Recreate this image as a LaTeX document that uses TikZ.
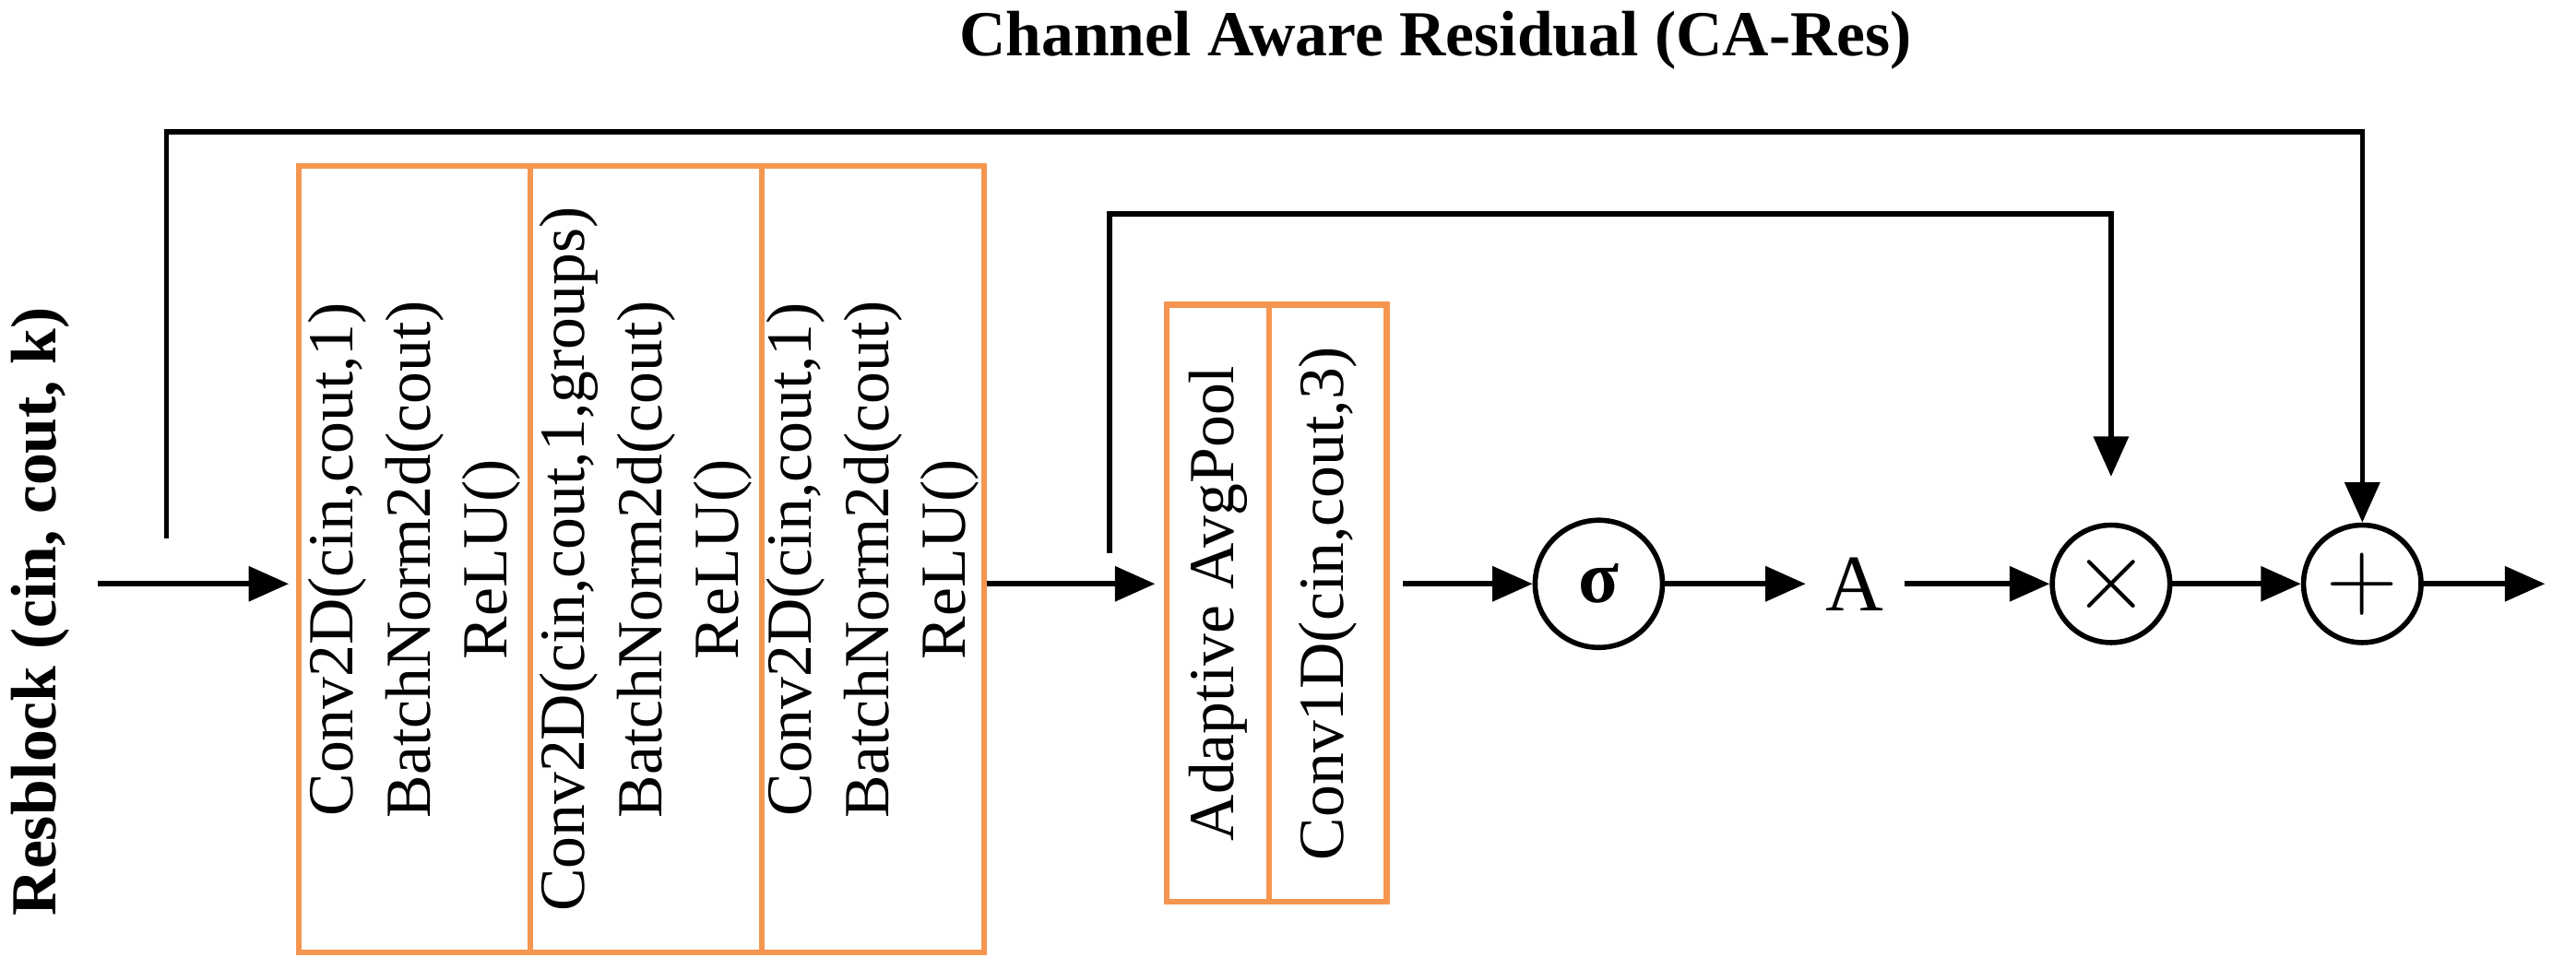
\documentclass[tikz,border=0pt]{standalone}
\usepackage{fontspec}
\setmainfont{Liberation Serif}
\usetikzlibrary{arrows.meta}
\definecolor{org}{RGB}{244,150,80}
\begin{document}
\begin{tikzpicture}[x=0.01cm,y=-0.01cm,
  ln/.style={line width=0.9pt},
  arr/.style={ln,-{Triangle[length=7pt,width=6pt]}},
  box/.style={draw=org,line width=1pt,minimum height=4.82cm,inner sep=0},
  sbox/.style={draw=org,line width=1pt,minimum height=3.66cm,inner sep=0},
  circ/.style={draw,circle,line width=0.9pt,minimum size=0.72cm,inner sep=0},
  txt/.style={rotate=90,align=center,font=\fontsize{11.2}{13.4}\selectfont}]
\useasboundingbox (0,0) rectangle (1579,594);
\node[font=\bfseries\fontsize{11.2}{13}\selectfont] (title) at (880,25) {Channel Aware Residual (CA-Res)};
\node[rotate=90,font=\bfseries\fontsize{11.2}{13}\selectfont] (rb) at (25,375) {Resblock (cin, cout, k)};
\node[box,minimum width=1.42cm] (b1) at (254,343) {};
\node[box,minimum width=1.42cm] (b2) at (396,343) {};
\node[box,minimum width=1.36cm] (b3) at (535,343) {};
\node[txt] at (b1) {Conv2D(cin,cout,1)\\BatchNorm2d(cout)\\ReLU()};
\node[txt] at (b2) {Conv2D(cin,cout,1,groups)\\BatchNorm2d(cout)\\ReLU()};
\node[txt] at (b3) {Conv2D(cin,cout,1)\\BatchNorm2d(cout)\\ReLU()};
\node[sbox,minimum width=0.63cm] (s1) at (746.5,370) {};
\node[sbox,minimum width=0.72cm] (s2) at (814,370) {};
\node[txt] at (s1) {Adaptive AvgPool};
\node[txt] at (s2) {Conv1D(cin,cout,3)};
\node[circ,minimum size=0.78cm] (sig) at (980,358) {\bfseries\fontsize{13}{14}\selectfont σ};
\node[font=\fontsize{14}{16}\selectfont] (A) at (1137,358) {A};
\node[circ] (mul) at (1294,358) {\fontsize{18}{18}\selectfont$\times$};
\node[circ] (add) at (1448,358) {\fontsize{18}{18}\selectfont$+$};
\coordinate (in) at (60,358);
\coordinate (ine) at (177,358);
\coordinate (m1) at (708,358);
\coordinate (s0) at (860,358);
\coordinate (out) at (1560,358);
\coordinate (k1) at (102,330);
\coordinate (k2) at (680,339);
\draw[arr] (in) -- (ine);
\draw[arr] (b3.east |- m1) -- (m1);
\draw[arr] (s0) -- (sig);
\draw[arr] (sig) -- (A);
\draw[arr] (A) -- (mul);
\draw[arr] (mul) -- (add);
\draw[arr] (add) -- (out);
\draw[arr] (k1) |- (1448,81) -- (add.north);
\draw[arr] (k2) |- (1294,131) -- ([yshift=8pt]mul.north);
\end{tikzpicture}
\end{document}
